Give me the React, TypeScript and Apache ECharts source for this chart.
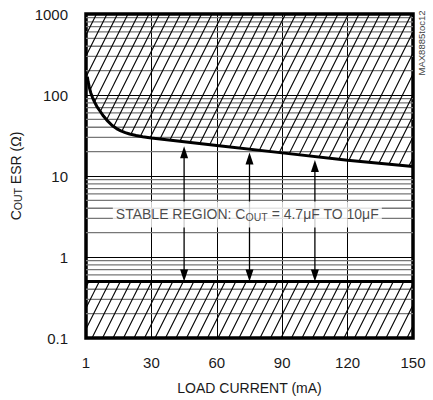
import React, { useEffect, useRef } from "react";
import * as echarts from "echarts";

// ---------- data ----------
const xTickValues = [0, 30, 60, 90, 120, 150];
const xTickLabels = ["1", "30", "60", "90", "120", "150"];
const yTickValues = [0.1, 1, 10, 100, 1000];
const yTickLabels = ["0.1", "1", "10", "100", "1000"];
const minorMantissas = [2, 3, 4, 5, 6, 7, 8, 9];
const minorDecades = [0.1, 1, 10, 100];

// upper stability boundary (load current mA, ESR ohm)
const boundaryCurrent = [0.6, 1, 1.5, 2.2, 3, 4, 5, 6.5, 8, 10, 12, 14, 16, 18, 20, 23, 26, 30, 60, 90, 120, 150];
const boundaryEsr = [168, 145, 125, 106, 93, 81, 72, 63, 55, 47.5, 42, 38.5, 36, 34.3, 33, 31.7, 30.6, 29.5, 23.8, 19.3, 15.6, 13.1];

// lower stability boundary
const lowerCurrent = [0, 150];
const lowerEsr = [0.5, 0.5];

// double arrows
const arrowCurrent = [45, 75, 105];
const arrowTopEsr = [23.3, 19.5, 15.8];
const arrowBottomEsr = [0.5, 0.5, 0.5];

// stable region label anchor
const stableLabelCurrent = [74];
const stableLabelEsr = [3.35];

const FONT = "'Liberation Sans', Arial, sans-serif";
const TXT = "#1a1a1a";

const minorValues: number[] = [];
minorDecades.forEach((d) => minorMantissas.forEach((m) => minorValues.push(+(d * m).toPrecision(6))));

const HATCH_SLOPE = 2;
const HATCH_STEP = 10.5;

export default function App() {
  const ref = useRef<HTMLDivElement>(null);
  useEffect(() => {
    if (!ref.current) return;
    const chart = echarts.init(ref.current, undefined, { renderer: "svg" });

    const subRich = {
      a: { fontSize: 14, fontFamily: FONT, color: TXT, lineHeight: 16 },
      s: { fontSize: 10.5, fontFamily: FONT, color: TXT, lineHeight: 9, verticalAlign: "bottom" },
    };

    const option: any = {
      animation: false,
      grid: {
        left: 86,
        right: 20,
        top: 14,
        bottom: 61,
        show: true,
        borderColor: "#000",
        borderWidth: 3.5,
        backgroundColor: "transparent",
      },
      xAxis: {
        type: "value",
        min: 0,
        max: 150,
        interval: 30,
        axisLine: { show: false },
        axisTick: { show: false },
        splitLine: { show: true, lineStyle: { color: "#000", width: 1 } },
        axisLabel: {
          margin: 17,
          fontSize: 15,
          fontFamily: FONT,
          color: TXT,
          formatter: (v: number) => {
            const i = xTickValues.indexOf(v);
            return i >= 0 ? xTickLabels[i] : "";
          },
        },
        name: "LOAD CURRENT (mA)",
        nameLocation: "middle",
        nameGap: 43,
        nameTextStyle: { fontSize: 14, fontFamily: FONT, color: TXT },
      },
      yAxis: {
        type: "log",
        logBase: 10,
        min: 0.1,
        max: 1000,
        axisLine: { show: false },
        axisTick: { show: false },
        splitLine: { show: true, lineStyle: { color: "#000", width: 1 } },
        axisLabel: {
          margin: 18,
          fontSize: 15,
          fontFamily: FONT,
          color: TXT,
          formatter: (v: number) => {
            const i = yTickValues.findIndex((t) => Math.abs(Math.log10(t) - Math.log10(v)) < 1e-6);
            return i >= 0 ? yTickLabels[i] : "";
          },
        },
        name: "{a|C}{s|OUT}{a| ESR (Ω)}",
        nameLocation: "middle",
        nameGap: 53,
        nameRotate: 90,
        nameTextStyle: { rich: subRich },
      },
      graphic: [
        {
          type: "text",
          x: 421,
          y: 43,
          rotation: Math.PI / 2,
          style: {
            text: "MAX8885toc12",
            fontSize: 9.5,
            fontFamily: FONT,
            fill: "#444",
            align: "center",
            verticalAlign: "middle",
          },
        },
      ],
      series: [
        // minor log grid lines
        {
          type: "custom",
          z: 1,
          silent: true,
          clip: true,
          data: minorValues.map((v) => [0, v]),
          renderItem: (params: any, api: any) => {
            const cs = params.coordSys;
            const y = api.coord([0, api.value(1)])[1];
            return {
              type: "line",
              shape: { x1: cs.x, y1: y, x2: cs.x + cs.width, y2: y },
              style: { stroke: "#777", lineWidth: 1.3 },
            };
          },
        },
        // hatching of unstable regions
        {
          type: "custom",
          z: 2,
          silent: true,
          clip: true,
          data: [[0, 1]],
          renderItem: (params: any, api: any) => {
            const cs = params.coordSys;
            const left = cs.x;
            const right = cs.x + cs.width;
            const top = cs.y;
            const bottom = cs.y + cs.height;
            const pts = boundaryCurrent.map((c, i) => api.coord([c, boundaryEsr[i]]));
            const curveY = (x: number) => {
              if (x <= pts[0][0]) return pts[0][1];
              for (let i = 0; i < pts.length - 1; i++) {
                if (x <= pts[i + 1][0]) {
                  const t = (x - pts[i][0]) / (pts[i + 1][0] - pts[i][0]);
                  return pts[i][1] + t * (pts[i + 1][1] - pts[i][1]);
                }
              }
              return pts[pts.length - 1][1];
            };
            const yLow = api.coord([0, lowerEsr[0]])[1];
            const s = HATCH_SLOPE;
            const step = HATCH_STEP * s;
            const children: any[] = [];
            const st = { stroke: "#000", lineWidth: 1.1 };
            for (let k = top + s * left; k <= bottom + s * right; k += step) {
              const f = (x: number) => k - s * x - curveY(x);
              let xa: number | null;
              if (f(left) <= 0) xa = left;
              else if (f(right) > 0) xa = null;
              else {
                let lo = left;
                let hi = right;
                for (let it = 0; it < 40; it++) {
                  const mid = (lo + hi) / 2;
                  if (f(mid) > 0) lo = mid;
                  else hi = mid;
                }
                xa = hi;
              }
              if (xa !== null) {
                const xb = Math.min(right, (k - top) / s);
                if (xb > xa) {
                  children.push({
                    type: "line",
                    shape: { x1: xa, y1: k - s * xa, x2: xb, y2: k - s * xb },
                    style: st,
                  });
                }
              }
              const xl = Math.max(left, (k - bottom) / s);
              const xr = Math.min(right, (k - yLow) / s);
              if (xr > xl) {
                children.push({
                  type: "line",
                  shape: { x1: xl, y1: k - s * xl, x2: xr, y2: k - s * xr },
                  style: st,
                });
              }
            }
            return { type: "group", children };
          },
        },
        // lower boundary
        {
          type: "line",
          z: 3,
          silent: true,
          symbol: "none",
          data: lowerCurrent.map((c, i) => [c, lowerEsr[i]]),
          lineStyle: { color: "#000", width: 3 },
        },
        // upper boundary curve
        {
          type: "line",
          z: 3,
          silent: true,
          symbol: "none",
          data: boundaryCurrent.map((c, i) => [c, boundaryEsr[i]]),
          lineStyle: { color: "#000", width: 3 },
        },
        // arrows
        {
          type: "custom",
          z: 4,
          silent: true,
          data: arrowCurrent.map((c, i) => [c, arrowTopEsr[i], arrowBottomEsr[i]]),
          encode: { x: 0, y: [1, 2] },
          renderItem: (params: any, api: any) => {
            const x = api.value(0);
            const p1 = api.coord([x, api.value(1)]);
            const p2 = api.coord([x, api.value(2)]);
            const hl = 12;
            const hw = 4;
            return {
              type: "group",
              children: [
                {
                  type: "line",
                  shape: { x1: p1[0], y1: p1[1] + hl - 1, x2: p2[0], y2: p2[1] - hl + 1 },
                  style: { stroke: "#000", lineWidth: 1.3 },
                },
                {
                  type: "polygon",
                  shape: { points: [[p1[0], p1[1]], [p1[0] - hw, p1[1] + hl], [p1[0] + hw, p1[1] + hl]] },
                  style: { fill: "#000" },
                },
                {
                  type: "polygon",
                  shape: { points: [[p2[0], p2[1]], [p2[0] - hw, p2[1] - hl], [p2[0] + hw, p2[1] - hl]] },
                  style: { fill: "#000" },
                },
              ],
            };
          },
        },
        // stable region label
        {
          type: "scatter",
          z: 6,
          silent: true,
          symbolSize: 1,
          itemStyle: { color: "transparent" },
          data: stableLabelCurrent.map((c, i) => [c, stableLabelEsr[i]]),
          label: {
            show: true,
            position: "inside",
            formatter: "{a|STABLE REGION: C}{s|OUT}{a| = 4.7μF TO 10μF}",
            backgroundColor: "#fff",
            padding: [5, 3, 5, 3],
            rich: subRich,
          },
        },
      ],
    };

    chart.setOption(option);
    return () => chart.dispose();
  }, []);

  return (
    <div
      ref={ref}
      style={{ position: "absolute", left: 0, top: 0, width: 433, height: 400, background: "#fff" }}
    />
  );
}
